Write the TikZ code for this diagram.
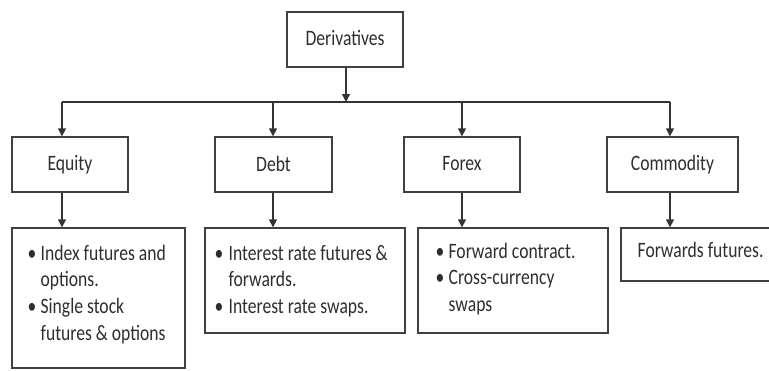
\documentclass[tikz,border=0pt]{standalone}
\usepackage{fontspec}
\setmainfont[FakeStretch=0.8]{Carlito}
\usetikzlibrary{arrows.meta}
\begin{document}
\begin{tikzpicture}[x=1pt,y=-1pt,
  line width=1.3pt,
  every node/.style={font=\fontsize{22}{26.7}\selectfont, text=black!82},
  box/.style={draw=black!75, rectangle, inner sep=0pt, minimum height=55pt},
  dbox/.style={draw=black!75, rectangle, inner sep=0pt},
  txt/.style={anchor=base west, inner sep=0pt, align=left},
  arr/.style={draw=black!80, -{Triangle[length=8pt,width=8pt]}},
  link/.style={draw=black!80}]
\useasboundingbox (0,0) rectangle (769,370);
% top
\node[box, minimum width=116pt] (der) at (345,39.5) {\raisebox{3pt}{Derivatives}};
% level 2
\node[box, minimum width=116pt] (eq) at (70,164.5) {\raisebox{2pt}{Equity}};
\node[box, minimum width=117pt] (debt) at (273.5,164.5) {\raisebox{2pt}{Debt}};
\node[box, minimum width=116pt] (fx) at (462,164.5) {\raisebox{2pt}{Forex}};
\node[box, minimum width=131pt] (com) at (672.5,164.5) {\raisebox{2pt}{Commodity}};
% level 3 boxes
\node[dbox, minimum width=173pt, minimum height=140pt] (eqd) at (98.5,298) {};
\node[dbox, minimum width=200pt, minimum height=105pt] (debtd) at (305,280.5) {};
\node[dbox, minimum width=190pt, minimum height=105pt] (fxd) at (513,280.5) {};
\node[dbox, minimum width=159pt, minimum height=53pt] (comd) at (700.5,254.5) {};
% level 3 texts
\node[txt] (eqt) at (27,260) {\begin{tabular}[t]{@{}l@{}l@{}}\makebox[13pt][l]{\textbullet} & Index futures and\\ & options.\\ \textbullet & Single stock\\ & futures \& options\end{tabular}};
\node[txt] (debtt) at (214,260) {\begin{tabular}[t]{@{}l@{}l@{}}\makebox[14pt][l]{\textbullet} & Interest rate futures \&\\ & forwards.\\ \textbullet & Interest rate swaps.\end{tabular}};
\node[txt] (fxt) at (435,258) {\begin{tabular}[t]{@{}l@{}l@{}}\makebox[13pt][l]{\textbullet} & Forward contract.\\ \textbullet & Cross-currency\\ & swaps\end{tabular}};
\node[txt] (comt) at (637,257) {Forwards futures.};
% connectors
\coordinate (j) at (346,102);
\coordinate (b1) at (62,102);
\coordinate (b2) at (273,102);
\coordinate (b3) at (462,102);
\coordinate (b4) at (670,102);
\draw[arr] (der.south -| j) -- (j);
\draw[link] (b1) -- (b4);
\draw[arr] (b1) -- (b1 |- eq.north);
\draw[arr] (b2) -- (b2 |- debt.north);
\draw[arr] (b3) -- (b3 |- fx.north);
\draw[arr] (b4) -- (b4 |- com.north);
\draw[arr] (b1 |- eq.south) -- (b1 |- eqd.north);
\draw[arr] (b2 |- debt.south) -- (b2 |- debtd.north);
\draw[arr] (b3 |- fx.south) -- (b3 |- fxd.north);
\draw[arr] (b4 |- com.south) -- (b4 |- comd.north);
\end{tikzpicture}
\end{document}
